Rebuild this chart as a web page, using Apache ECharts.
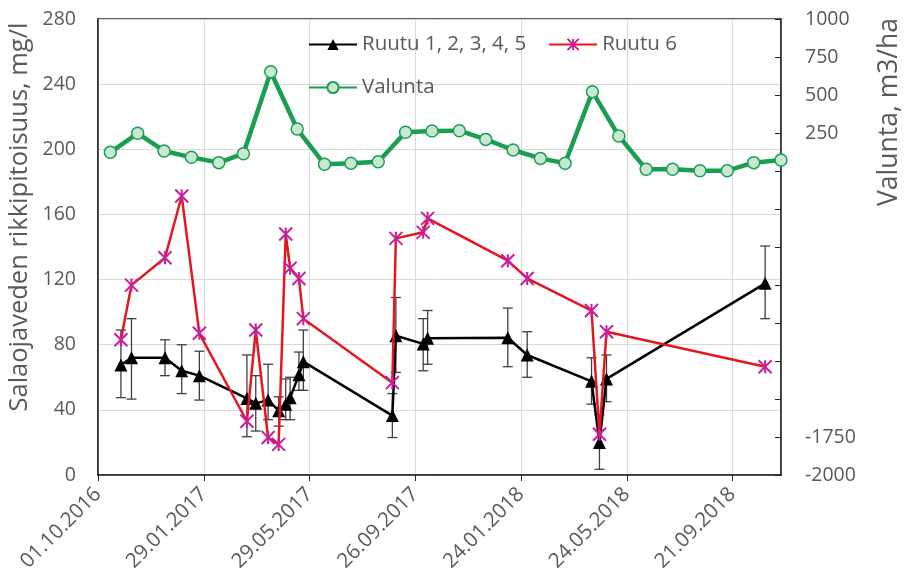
<!DOCTYPE html>
<html><head><meta charset="utf-8">
<script src="https://cdn.jsdelivr.net/npm/echarts@6/dist/echarts.min.js"></script>
<style>html,body{margin:0;padding:0;background:#fff}#c{width:909px;height:581px}</style>
</head><body><div id="c"></div>
<script>
// ---- data ----
const sampleDates = ['2016-10-27','2016-11-08','2016-12-16','2017-01-04','2017-01-24','2017-03-19','2017-03-29','2017-04-12','2017-04-24','2017-05-02','2017-05-07','2017-05-17','2017-05-22','2017-08-31','2017-09-04','2017-10-05','2017-10-10','2018-01-09','2018-01-31','2018-04-14','2018-04-23','2018-05-01','2018-10-28'];
const ruutu15 = [67.5,72,72,64,61,47,44,46,39.5,43.5,47.5,61.5,69.6,36.5,85.5,80.5,84,84.3,73.7,57.5,20,59,117.7];
const ruutu15Low = [47.5,46.6,61,50,46,23.5,27,34,30,34,34,52,52,23,63,64,68,66.5,60,43.5,3.5,45,96];
const ruutu15High = [89,96,83,80,76,73.7,61,68,48,59,60,75.5,89,50,109,96,101,102.5,88,72,37,73.7,140.6];
const ruutu6 = [83,116.6,133.4,171.3,87,33,89,23,18.8,148,127,120.7,96,56.7,145.3,149,157.6,131.6,120.7,101,25,88,66.5];
const valuntaDates = ['2016-10-15','2016-11-15','2016-12-15','2017-01-15','2017-02-15','2017-03-15','2017-04-15','2017-05-15','2017-06-15','2017-07-15','2017-08-15','2017-09-15','2017-10-15','2017-11-15','2017-12-15','2018-01-15','2018-02-15','2018-03-15','2018-04-15','2018-05-15','2018-06-15','2018-07-15','2018-08-15','2018-09-15','2018-10-15','2018-11-15'];
const valunta = [123,248,132,90,55,114,653,276,44,51,61,255,263,265,208,138,83,51,522,230,11,11,2,2,55,72];
const xStart = '2016-10-01';
const xEnd = '2018-11-15';
const xStepDays = 120;
const leftAxis = {min:0, max:280, step:40};
const rightAxis = {min:-2000, max:1000, step:250};
const rightShownLabels = [1000,750,500,250,-1750,-2000];
const names = ['Ruutu 1, 2, 3, 4, 5','Ruutu 6','Valunta'];
const titles = {left:'Salaojaveden rikkipitoisuus, mg/l', right:'Valunta, m3/ha'};

// ---- helpers ----
function utc(s){const p=s.split('-').map(Number);return Date.UTC(p[0],p[1]-1,p[2]);}
const T0 = utc(xStart);
function dayNum(s){return (utc(s)-T0)/86400000;}
function fmt(days){const t=new Date(T0+days*86400000);const dd=String(t.getUTCDate()).padStart(2,'0');const mm=String(t.getUTCMonth()+1).padStart(2,'0');return dd+'.'+mm+'.'+t.getUTCFullYear();}

const FONT = "'Open Sans', 'Noto Sans', sans-serif";
const TXT = '#595959';
const AX = '#262626';
const star = 'path://M5,0L5,10M0,0L10,10M0,10L10,0';

const chart = echarts.init(document.getElementById('c'), null, {renderer:'canvas'});
chart.setOption({
  animation:false,
  backgroundColor:'#fff',
  textStyle:{fontFamily:FONT},
  grid:{left:98, top:19, right:128, bottom:106, show:true, borderColor:AX, borderWidth:1.5, backgroundColor:'transparent'},
  legend:[
    {data:[names[0],names[1]], left:308, top:34, padding:0, itemWidth:48, itemHeight:14, itemGap:22,
     textStyle:{fontSize:20.5, color:TXT, fontFamily:FONT}},
    {data:[names[2]], left:308, top:77, padding:0, itemWidth:48, itemHeight:14,
     textStyle:{fontSize:20.5, color:TXT, fontFamily:FONT}}
  ],
  xAxis:{type:'value', min:0, max:dayNum(xEnd), interval:xStepDays,
    axisLine:{show:true, onZero:false, lineStyle:{color:AX, width:1.5}},
    axisTick:{show:true, length:6, lineStyle:{color:AX}},
    splitLine:{show:true, lineStyle:{color:'#d9d9d9', width:1}},
    axisLabel:{rotate:45, fontSize:20.5, color:TXT, fontFamily:FONT, margin:16, showMaxLabel:false,
      formatter:v=> (v % xStepDays === 0 ? fmt(v) : '')}
  },
  yAxis:[
    {type:'value', min:leftAxis.min, max:leftAxis.max, interval:leftAxis.step,
     axisLine:{show:true, lineStyle:{color:AX, width:1.5}}, axisTick:{show:false},
     splitLine:{show:true, lineStyle:{color:'#d9d9d9', width:1}},
     axisLabel:{fontSize:19.5, color:TXT, fontFamily:FONT, margin:22}},
    {type:'value', position:'right', min:rightAxis.min, max:rightAxis.max, interval:rightAxis.step,
     axisLine:{show:true, lineStyle:{color:AX, width:1.5}},
     axisTick:{show:true, inside:true, length:6, lineStyle:{color:AX}},
     splitLine:{show:false},
     axisLabel:{fontSize:19.5, color:TXT, fontFamily:FONT, margin:24,
       formatter:v=> (rightShownLabels.indexOf(v)>=0 ? String(v) : '')}}
  ],
  graphic:[
    {type:'text', x:20, y:217, rotation:Math.PI/2, style:{text:titles.left, fontSize:25.5, fontFamily:FONT, fill:TXT, align:'center', verticalAlign:'middle'}},
    {type:'text', x:889, y:112, rotation:Math.PI/2, style:{text:titles.right, fontSize:26.5, fontFamily:FONT, fill:TXT, align:'center', verticalAlign:'middle'}}
  ],
  series:[
    {type:'custom', name:'err', yAxisIndex:0, z:1,
     data: sampleDates.map((d,i)=>[dayNum(d), ruutu15Low[i], ruutu15High[i]]),
     encode:{x:0, y:[1,2]},
     renderItem:function(params, api){
       const x=api.value(0), lo=api.value(1), hi=api.value(2);
       const a=api.coord([x,lo]), b=api.coord([x,hi]);
       const c=5, st={stroke:'#404040', lineWidth:1.3};
       return {type:'group', children:[
         {type:'line', shape:{x1:a[0],y1:a[1],x2:b[0],y2:b[1]}, style:st},
         {type:'line', shape:{x1:a[0]-c,y1:a[1],x2:a[0]+c,y2:a[1]}, style:st},
         {type:'line', shape:{x1:b[0]-c,y1:b[1],x2:b[0]+c,y2:b[1]}, style:st}
       ]};
     }},
    {type:'line', name:names[0], yAxisIndex:0, z:3,
     data: sampleDates.map((d,i)=>[dayNum(d), ruutu15[i]]),
     symbol:'triangle', symbolSize:13,
     lineStyle:{color:'#000', width:2.5}, itemStyle:{color:'#000'}},
    {type:'line', name:names[1], yAxisIndex:0, z:4,
     data: sampleDates.map((d,i)=>[dayNum(d), ruutu6[i]]),
     symbol:star, symbolSize:13,
     lineStyle:{color:'#e3171d', width:2.5},
     itemStyle:{color:'#c8209a', borderColor:'#c8209a', borderWidth:2}},
    {type:'line', name:names[2], yAxisIndex:1, z:5,
     data: valuntaDates.map((d,i)=>[dayNum(d), valunta[i]]),
     symbol:'circle', symbolSize:12,
     lineStyle:{color:'#1a9e4f', width:4.5},
     itemStyle:{color:'#c8e8d3', borderColor:'#1a9e4f', borderWidth:1.5}}
  ]
});
</script></body></html>
